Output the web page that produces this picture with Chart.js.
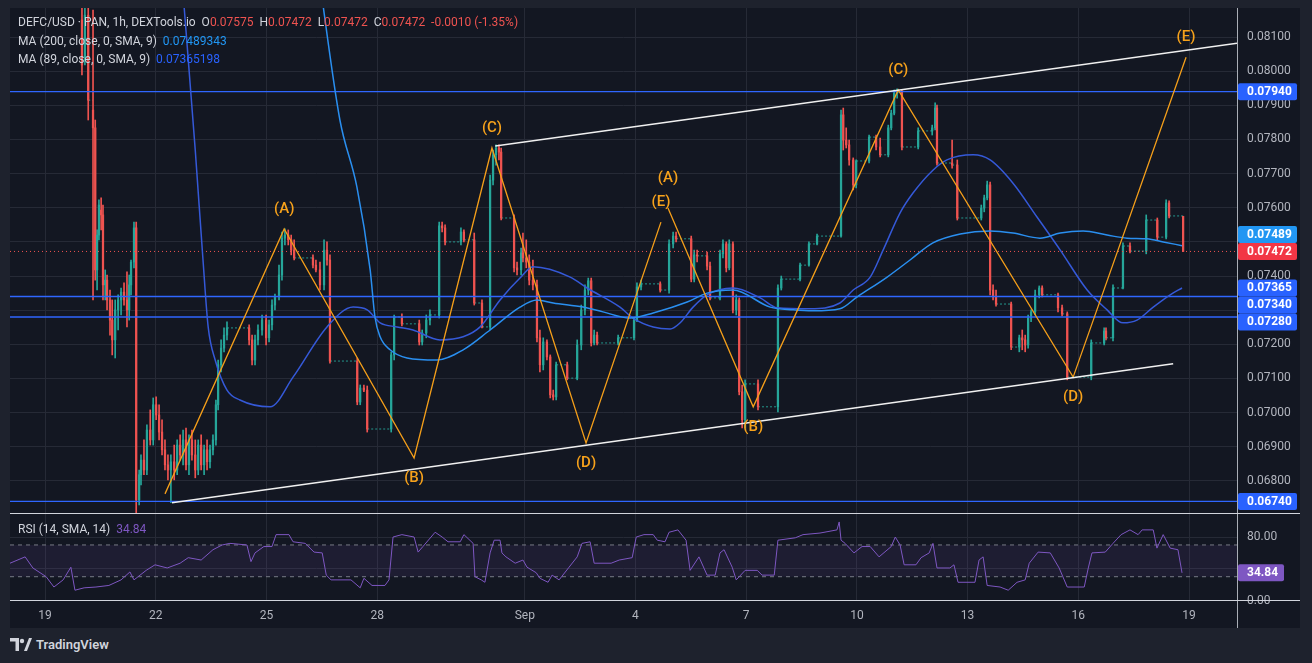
<!DOCTYPE html>
<html>
<head>
<meta charset="utf-8">
<script src="https://cdn.jsdelivr.net/npm/chart.js@4.4.1/dist/chart.umd.min.js"></script>
<style>
  html, body { margin: 0; padding: 0; width: 1312px; height: 663px; overflow: hidden; background: #1e222d; font-family: Roboto, "Noto Sans", sans-serif; }
  #pane { position: absolute; left: 10px; top: 8px; width: 1290px; height: 620px; background: #131722; }
  canvas { position: absolute; }
  #main { left: 10px; top: 8px; }
  #rsi { left: 10px; top: 514px; }
  .sep { position: absolute; background: #d1d4dc; }
  .legend { position: absolute; left: 18px; font-size: 12px; line-height: 14px; color: #d1d4dc; white-space: nowrap; }
  .dn { color: #ef5350; }
  .ma200 { color: #2196f3; }
  .ma89 { color: #2962ff; }
  .rsiv { color: #7e57c2; }
  #logo { position: absolute; left: 10px; top: 637px; display: flex; align-items: center; gap: 4px; color: #d1d4dc; font-size: 13px; font-weight: 600; }
</style>
</head>
<body>
<div id="pane"></div>
<canvas id="main" width="1290" height="505"></canvas>
<canvas id="rsi" width="1290" height="114"></canvas>
<div class="sep" style="left:10px;top:513px;width:1290px;height:1px"></div>
<div class="sep" style="left:10px;top:600px;width:1290px;height:1px"></div>
<div class="sep" style="left:1237px;top:8px;width:1px;height:620px;opacity:0.8"></div>

<div class="legend" style="top:15px">DEFC/USD · PAN, 1h, DEXTools.io&nbsp; O<span class="dn">0.07575</span>&nbsp; H<span class="dn">0.07472</span>&nbsp; L<span class="dn">0.07472</span>&nbsp; C<span class="dn">0.07472</span>&nbsp; <span class="dn">-0.0010 (-1.35%)</span></div>
<div class="legend" style="top:34px">MA (200, close, 0, SMA, 9)&nbsp; <span class="ma200">0.07489343</span></div>
<div class="legend" style="top:52px">MA (89, close, 0, SMA, 9)&nbsp; <span class="ma89">0.07365198</span></div>
<div class="legend" style="top:522px">RSI (14, SMA, 14)&nbsp; <span class="rsiv">34.84</span></div>

<div id="logo">
  <svg width="22" height="13" viewBox="0 0 22 13"><path d="M0 0h9v13H5.5V3.5H0z" fill="#d1d4dc"/><circle cx="12" cy="3" r="2.2" fill="#d1d4dc"/><path d="M14 13l5-13h3l-5 13z" fill="#d1d4dc"/></svg>
  <span>TradingView</span>
</div>

<script>
// time axis: day of month (Aug 19 = 19, Sep 1 = 32)
const dayTicks = [19, 22, 25, 28, 32, 35, 38, 41, 44, 47, 50];
const dayLabels = ['19', '22', '25', '28', 'Sep', '4', '7', '10', '13', '16', '19'];
const priceTicks = [0.068, 0.069, 0.070, 0.071, 0.072, 0.073, 0.074, 0.075, 0.076, 0.077, 0.078, 0.079, 0.080, 0.081];
const rsiTicks = [0, 40, 80];

// hourly candles (sampled): [day, open, high, low, close]
const candles = [
  [20.00, 0.08150, 0.08194, 0.07989, 0.08018], [20.08, 0.08033, 0.08185, 0.08018, 0.08164],
  [20.17, 0.08164, 0.08185, 0.07857, 0.07915], [20.30, 0.07886, 0.08179, 0.07330, 0.07834],
  [20.36, 0.07834, 0.07857, 0.07388, 0.07418], [20.41, 0.07418, 0.07535, 0.07359, 0.07520],
  [20.46, 0.07520, 0.07623, 0.07506, 0.07608], [20.52, 0.07593, 0.07629, 0.07535, 0.07579],
  [20.57, 0.07579, 0.07608, 0.07330, 0.07374], [20.63, 0.07374, 0.07418, 0.07330, 0.07388],
  [20.68, 0.07388, 0.07403, 0.07301, 0.07330], [20.76, 0.07330, 0.07359, 0.07227, 0.07271],
  [20.82, 0.07271, 0.07330, 0.07169, 0.07213], [20.90, 0.07213, 0.07330, 0.07160, 0.07301],
  [20.98, 0.07301, 0.07345, 0.07242, 0.07330], [21.06, 0.07330, 0.07365, 0.07286, 0.07353],
  [21.14, 0.07353, 0.07380, 0.07315, 0.07330], [21.22, 0.07330, 0.07412, 0.07251, 0.07301],
  [21.28, 0.07301, 0.07403, 0.07271, 0.07374], [21.33, 0.07374, 0.07447, 0.07345, 0.07441],
  [21.41, 0.07441, 0.07558, 0.07424, 0.07541], [21.47, 0.07541, 0.07558, 0.06700, 0.06744],
  [21.55, 0.06744, 0.06832, 0.06730, 0.06818], [21.60, 0.06818, 0.06876, 0.06788, 0.06861],
  [21.68, 0.06861, 0.06920, 0.06818, 0.06832], [21.76, 0.06832, 0.06964, 0.06818, 0.06949],
  [21.85, 0.06949, 0.07008, 0.06905, 0.06920], [21.93, 0.06920, 0.07043, 0.06905, 0.07023],
  [22.01, 0.07023, 0.07046, 0.06979, 0.06993], [22.09, 0.06993, 0.07023, 0.06920, 0.06943],
  [22.17, 0.06943, 0.06979, 0.06876, 0.06891], [22.25, 0.06891, 0.06920, 0.06832, 0.06847],
  [22.33, 0.06847, 0.06876, 0.06803, 0.06832], [22.41, 0.06832, 0.06876, 0.06736, 0.06856],
  [22.50, 0.06856, 0.06905, 0.06803, 0.06832], [22.58, 0.06832, 0.06920, 0.06818, 0.06905],
  [22.66, 0.06905, 0.06935, 0.06861, 0.06876], [22.74, 0.06876, 0.06949, 0.06847, 0.06920],
  [22.82, 0.06920, 0.06955, 0.06832, 0.06847], [22.90, 0.06847, 0.06935, 0.06818, 0.06920],
  [22.98, 0.06920, 0.06949, 0.06861, 0.06876], [23.07, 0.06876, 0.06920, 0.06809, 0.06832],
  [23.15, 0.06832, 0.06920, 0.06818, 0.06905], [23.23, 0.06905, 0.06935, 0.06832, 0.06847],
  [23.31, 0.06847, 0.06905, 0.06818, 0.06891], [23.39, 0.06891, 0.06920, 0.06832, 0.06856],
  [23.47, 0.06856, 0.06905, 0.06838, 0.06891], [23.55, 0.06891, 0.06935, 0.06876, 0.06920],
  [23.63, 0.06920, 0.07037, 0.06905, 0.07023], [23.69, 0.07023, 0.07154, 0.07008, 0.07140],
  [23.77, 0.07140, 0.07213, 0.07119, 0.07189], [23.85, 0.07189, 0.07248, 0.07178, 0.07227],
  [23.93, 0.07227, 0.07266, 0.07213, 0.07248], [24.53, 0.07248, 0.07257, 0.07198, 0.07213],
  [24.61, 0.07213, 0.07227, 0.07140, 0.07154], [24.69, 0.07154, 0.07227, 0.07140, 0.07213],
  [24.77, 0.07213, 0.07257, 0.07198, 0.07242], [24.88, 0.07242, 0.07286, 0.07227, 0.07271],
  [24.99, 0.07271, 0.07286, 0.07198, 0.07219], [25.07, 0.07219, 0.07271, 0.07207, 0.07257],
  [25.15, 0.07257, 0.07330, 0.07242, 0.07315], [25.23, 0.07315, 0.07347, 0.07301, 0.07339],
  [25.34, 0.07339, 0.07432, 0.07330, 0.07403], [25.42, 0.07403, 0.07529, 0.07388, 0.07511],
  [25.50, 0.07511, 0.07538, 0.07491, 0.07520], [25.59, 0.07520, 0.07535, 0.07491, 0.07506],
  [25.67, 0.07506, 0.07520, 0.07462, 0.07476], [25.75, 0.07476, 0.07506, 0.07447, 0.07453],
  [26.26, 0.07453, 0.07462, 0.07424, 0.07432], [26.34, 0.07432, 0.07447, 0.07412, 0.07418],
  [26.45, 0.07418, 0.07441, 0.07359, 0.07374], [26.56, 0.07374, 0.07506, 0.07359, 0.07476],
  [26.64, 0.07476, 0.07500, 0.07432, 0.07447], [26.72, 0.07447, 0.07462, 0.07145, 0.07151],
  [27.46, 0.07151, 0.07160, 0.07023, 0.07031], [27.54, 0.07031, 0.07081, 0.07023, 0.07072],
  [27.64, 0.07072, 0.07081, 0.07061, 0.07066], [27.73, 0.07066, 0.07078, 0.06943, 0.06952],
  [28.38, 0.06952, 0.07178, 0.06943, 0.07169], [28.46, 0.07169, 0.07286, 0.07154, 0.07280],
  [28.67, 0.07280, 0.07289, 0.07254, 0.07260], [29.14, 0.07260, 0.07271, 0.07198, 0.07207],
  [29.22, 0.07207, 0.07242, 0.07198, 0.07233], [29.33, 0.07233, 0.07286, 0.07219, 0.07271],
  [29.43, 0.07271, 0.07301, 0.07257, 0.07286], [29.68, 0.07286, 0.07558, 0.07277, 0.07547],
  [29.76, 0.07547, 0.07558, 0.07529, 0.07541], [29.84, 0.07541, 0.07550, 0.07491, 0.07500],
  [30.27, 0.07500, 0.07541, 0.07491, 0.07529], [30.35, 0.07529, 0.07535, 0.07500, 0.07506],
  [30.63, 0.07506, 0.07526, 0.07315, 0.07321], [30.84, 0.07321, 0.07330, 0.07248, 0.07251],
  [31.06, 0.07251, 0.07696, 0.07242, 0.07681], [31.14, 0.07681, 0.07769, 0.07667, 0.07755],
  [31.22, 0.07755, 0.07784, 0.07725, 0.07775], [31.30, 0.07775, 0.07784, 0.07740, 0.07763],
  [31.36, 0.07763, 0.07775, 0.07564, 0.07570], [31.71, 0.07570, 0.07579, 0.07412, 0.07424],
  [31.79, 0.07424, 0.07441, 0.07403, 0.07418], [31.90, 0.07418, 0.07482, 0.07403, 0.07468],
  [31.95, 0.07468, 0.07526, 0.07441, 0.07453], [32.04, 0.07453, 0.07506, 0.07424, 0.07441],
  [32.12, 0.07441, 0.07462, 0.07374, 0.07388], [32.22, 0.07388, 0.07447, 0.07359, 0.07374],
  [32.33, 0.07374, 0.07388, 0.07207, 0.07219], [32.41, 0.07219, 0.07242, 0.07119, 0.07140],
  [32.50, 0.07140, 0.07219, 0.07125, 0.07207], [32.60, 0.07207, 0.07213, 0.07154, 0.07163],
  [32.69, 0.07163, 0.07169, 0.07043, 0.07052], [32.77, 0.07052, 0.07066, 0.07037, 0.07046],
  [32.85, 0.07046, 0.07148, 0.07037, 0.07140], [33.15, 0.07140, 0.07148, 0.07096, 0.07101],
  [33.42, 0.07101, 0.07213, 0.07096, 0.07198], [33.53, 0.07198, 0.07315, 0.07184, 0.07301],
  [33.63, 0.07301, 0.07374, 0.07286, 0.07359], [33.72, 0.07359, 0.07394, 0.07345, 0.07386],
  [33.80, 0.07386, 0.07394, 0.07195, 0.07204], [33.88, 0.07204, 0.07242, 0.07198, 0.07227],
  [33.96, 0.07227, 0.07236, 0.07198, 0.07204], [34.53, 0.07204, 0.07227, 0.07198, 0.07219],
  [34.96, 0.07219, 0.07277, 0.07213, 0.07271], [35.04, 0.07271, 0.07380, 0.07266, 0.07368],
  [35.15, 0.07368, 0.07388, 0.07359, 0.07377], [35.67, 0.07377, 0.07383, 0.07353, 0.07359],
  [35.91, 0.07359, 0.07506, 0.07350, 0.07494], [36.02, 0.07494, 0.07529, 0.07482, 0.07517],
  [36.10, 0.07517, 0.07529, 0.07500, 0.07509], [36.51, 0.07509, 0.07517, 0.07383, 0.07391],
  [36.59, 0.07391, 0.07476, 0.07383, 0.07462], [36.67, 0.07462, 0.07476, 0.07441, 0.07459],
  [36.94, 0.07459, 0.07470, 0.07418, 0.07429], [37.02, 0.07429, 0.07441, 0.07330, 0.07336],
  [37.29, 0.07336, 0.07476, 0.07330, 0.07465], [37.37, 0.07465, 0.07506, 0.07453, 0.07494],
  [37.46, 0.07494, 0.07500, 0.07412, 0.07424], [37.54, 0.07424, 0.07506, 0.07418, 0.07494],
  [37.64, 0.07494, 0.07500, 0.07292, 0.07301], [37.73, 0.07301, 0.07345, 0.07286, 0.07330],
  [37.81, 0.07330, 0.07336, 0.07052, 0.07061], [37.89, 0.07061, 0.07081, 0.06955, 0.06979],
  [37.97, 0.06979, 0.07096, 0.06955, 0.07084], [38.32, 0.07084, 0.07096, 0.07008, 0.07017],
  [38.86, 0.07017, 0.07374, 0.07002, 0.07365], [38.95, 0.07365, 0.07400, 0.07359, 0.07391],
  [39.46, 0.07391, 0.07438, 0.07386, 0.07432], [39.70, 0.07432, 0.07500, 0.07429, 0.07494],
  [39.92, 0.07494, 0.07523, 0.07491, 0.07517], [40.57, 0.07517, 0.07886, 0.07514, 0.07872],
  [40.63, 0.07872, 0.07892, 0.07769, 0.07798], [40.71, 0.07798, 0.07834, 0.07775, 0.07784],
  [40.79, 0.07784, 0.07798, 0.07725, 0.07740], [40.90, 0.07740, 0.07746, 0.07652, 0.07667],
  [40.98, 0.07667, 0.07740, 0.07658, 0.07737], [41.33, 0.07737, 0.07813, 0.07731, 0.07807],
  [41.52, 0.07807, 0.07813, 0.07769, 0.07778], [41.63, 0.07778, 0.07804, 0.07749, 0.07755],
  [41.85, 0.07755, 0.07842, 0.07749, 0.07834], [41.93, 0.07834, 0.07886, 0.07828, 0.07877],
  [42.01, 0.07877, 0.07945, 0.07872, 0.07936], [42.09, 0.07936, 0.07948, 0.07921, 0.07939],
  [42.22, 0.07939, 0.07945, 0.07769, 0.07778], [42.66, 0.07778, 0.07834, 0.07772, 0.07825],
  [43.04, 0.07825, 0.07842, 0.07813, 0.07834], [43.12, 0.07834, 0.07907, 0.07828, 0.07892],
  [43.17, 0.07892, 0.07901, 0.07725, 0.07731], [43.58, 0.07731, 0.07798, 0.07716, 0.07725],
  [43.72, 0.07725, 0.07740, 0.07564, 0.07570], [44.37, 0.07570, 0.07608, 0.07564, 0.07599],
  [44.45, 0.07599, 0.07637, 0.07588, 0.07629], [44.53, 0.07629, 0.07678, 0.07623, 0.07667],
  [44.61, 0.07667, 0.07675, 0.07345, 0.07359], [44.69, 0.07359, 0.07374, 0.07330, 0.07339],
  [44.77, 0.07339, 0.07359, 0.07312, 0.07318], [45.18, 0.07318, 0.07324, 0.07184, 0.07192],
  [45.40, 0.07192, 0.07227, 0.07178, 0.07219], [45.48, 0.07219, 0.07242, 0.07184, 0.07213],
  [45.56, 0.07213, 0.07227, 0.07178, 0.07198], [45.64, 0.07198, 0.07286, 0.07189, 0.07277],
  [45.72, 0.07277, 0.07301, 0.07266, 0.07295], [45.83, 0.07295, 0.07359, 0.07286, 0.07345],
  [45.94, 0.07345, 0.07371, 0.07336, 0.07365], [46.02, 0.07365, 0.07371, 0.07339, 0.07345],
  [46.45, 0.07345, 0.07350, 0.07295, 0.07307], [46.56, 0.07307, 0.07315, 0.07283, 0.07289],
  [46.70, 0.07289, 0.07295, 0.07096, 0.07104], [47.35, 0.07104, 0.07213, 0.07096, 0.07204],
  [47.70, 0.07204, 0.07248, 0.07198, 0.07239], [47.75, 0.07239, 0.07248, 0.07213, 0.07219],
  [47.94, 0.07219, 0.07374, 0.07210, 0.07365], [48.21, 0.07365, 0.07497, 0.07362, 0.07488],
  [48.40, 0.07488, 0.07497, 0.07468, 0.07473], [48.84, 0.07473, 0.07579, 0.07465, 0.07564],
  [49.14, 0.07564, 0.07570, 0.07506, 0.07514], [49.38, 0.07514, 0.07623, 0.07509, 0.07614],
  [49.46, 0.07614, 0.07620, 0.07570, 0.07576], [49.84, 0.07575, 0.07575, 0.07472, 0.07472]
];

const ma200Day = [26.40, 26.99, 27.45, 27.81, 27.94, 28.08, 28.35, 28.81, 29.62, 30.33, 31.06, 31.87, 32.33, 32.77, 33.58, 34.12, 34.85, 35.48, 36.40, 36.94, 37.64, 38.65, 39.27, 39.81, 40.54, 41.01, 41.82, 42.44, 43.06, 43.80, 44.61, 45.23, 45.96, 46.51, 47.13, 47.78, 48.32, 48.86, 49.30, 49.81];
const ma200Value = [0.08296, 0.07857, 0.07661, 0.07418, 0.07280, 0.07222, 0.07184, 0.07160, 0.07154, 0.07184, 0.07242, 0.07309, 0.07330, 0.07321, 0.07309, 0.07295, 0.07277, 0.07292, 0.07324, 0.07350, 0.07359, 0.07309, 0.07301, 0.07298, 0.07304, 0.07339, 0.07397, 0.07447, 0.07497, 0.07523, 0.07532, 0.07526, 0.07511, 0.07526, 0.07532, 0.07520, 0.07511, 0.07509, 0.07500, 0.07489];

const ma89Day = [22.69, 23.07, 23.28, 23.42, 23.61, 23.93, 24.28, 25.10, 25.72, 26.64, 27.35, 27.73, 28.08, 28.54, 28.97, 29.70, 30.33, 30.79, 31.33, 31.87, 32.22, 33.23, 33.69, 34.58, 34.93, 35.48, 35.94, 36.21, 36.56, 36.94, 37.64, 38.38, 38.84, 39.73, 40.54, 40.90, 41.36, 41.71, 42.17, 42.52, 43.06, 43.44, 44.15, 44.61, 45.23, 45.88, 46.51, 47.24, 47.78, 48.21, 48.59, 49.03, 49.49, 49.81];
const ma89Value = [0.08296, 0.07769, 0.07447, 0.07251, 0.07154, 0.07066, 0.07037, 0.07017, 0.07104, 0.07251, 0.07309, 0.07301, 0.07263, 0.07251, 0.07242, 0.07213, 0.07222, 0.07251, 0.07330, 0.07394, 0.07427, 0.07397, 0.07365, 0.07309, 0.07277, 0.07251, 0.07245, 0.07263, 0.07309, 0.07345, 0.07365, 0.07336, 0.07307, 0.07304, 0.07321, 0.07359, 0.07397, 0.07476, 0.07585, 0.07643, 0.07710, 0.07740, 0.07755, 0.07740, 0.07672, 0.07573, 0.07476, 0.07359, 0.07301, 0.07263, 0.07271, 0.07309, 0.07345, 0.07365];

// Elliott style waves
const waveDay1 = [22.25, 25.48, 29.00, 31.11, 33.66, 35.69];
const wavePrice1 = [0.06762, 0.07538, 0.06867, 0.07775, 0.06911, 0.07558];
const waveNames1 = ['', '(A)', '(B)', '(C)', '(D)', '(E)'];
const waveDay2 = [35.88, 38.19, 42.12, 46.86, 49.92];
const wavePrice2 = [0.07599, 0.07017, 0.07945, 0.07104, 0.08041];
const waveNames2 = ['(A)', '(B)', '(C)', '(D)', '(E)'];

// channel
const upperDay = [31.20, 51.30];
const upperPrice = [0.07781, 0.08082];
const lowerDay = [22.44, 49.57];
const lowerPrice = [0.06736, 0.07143];

const levels = [0.0794, 0.0734, 0.0728, 0.0674];
const lastPrice = 0.07472;
const ma200Last = 0.07489;
const ma89Last = 0.07365;

const rsiDay = [18.05, 18.46, 18.67, 19.03, 19.24, 19.49, 19.70, 19.81, 20.06, 20.38,
  20.73, 21.06, 21.30, 21.41, 21.74, 21.98, 22.31, 22.66, 22.88, 23.23,
  23.55, 23.80, 24.01, 24.47, 24.58, 24.69, 24.93, 25.15, 25.26, 25.61,
  25.72, 26.05, 26.29, 26.51, 26.62, 26.75, 27.29, 27.54, 27.64, 27.86,
  28.21, 28.32, 28.43, 28.67, 29.00, 29.11, 29.24, 29.57, 29.76, 29.92,
  30.25, 30.35, 30.60, 30.65, 30.82, 30.92, 31.06, 31.17, 31.33, 31.38,
  31.49, 31.74, 31.95, 32.06, 32.31, 32.41, 32.63, 32.74, 32.93, 33.20,
  33.42, 33.55, 33.77, 33.88, 34.34, 34.56, 34.91, 35.02, 35.23, 35.48,
  35.59, 35.80, 35.91, 36.15, 36.37, 36.48, 36.72, 36.94, 37.16, 37.29,
  37.40, 37.62, 37.73, 37.97, 38.30, 38.43, 38.76, 38.86, 39.33, 39.54,
  40.00, 40.46, 40.52, 40.57, 40.68, 40.92, 41.14, 41.36, 41.60, 41.93,
  42.04, 42.17, 42.28, 42.60, 42.74, 42.96, 43.06, 43.17, 43.52, 43.63,
  43.74, 44.20, 44.31, 44.42, 44.53, 44.88, 45.10, 45.34, 45.56, 45.67,
  45.91, 46.24, 46.48, 46.70, 47.16, 47.27, 47.37, 47.73, 47.94, 48.16,
  48.40, 48.62, 48.73, 49.03, 49.13, 49.30, 49.49, 49.70, 49.81];
const rsiValue = [47, 55, 41, 30, 17, 26, 42, 13, 16, 17,
  19, 26, 36, 26, 38, 45, 41, 47, 54, 51,
  64, 70, 72, 70, 49, 60, 68, 68, 83, 83,
  74, 72, 61, 60, 32, 26, 26, 16, 28, 19,
  19, 26, 80, 83, 80, 61, 68, 86, 80, 74,
  74, 83, 72, 30, 26, 23, 60, 76, 76, 60,
  55, 47, 51, 42, 35, 28, 23, 32, 26, 42,
  55, 72, 74, 47, 47, 51, 54, 80, 83, 83,
  76, 74, 86, 89, 76, 38, 55, 32, 32, 60,
  64, 42, 26, 38, 38, 32, 32, 76, 79, 83,
  85, 89, 99, 76, 72, 60, 68, 68, 55, 68,
  80, 70, 45, 45, 54, 60, 72, 41, 41, 45,
  23, 23, 51, 55, 19, 17, 13, 23, 26, 47,
  61, 60, 41, 17, 17, 41, 60, 61, 72, 83,
  89, 83, 89, 89, 66, 83, 66, 64, 34.84];
const rsiUpper = 70;
const rsiLower = 30;

const xMin = 18.05, xMax = 51.30;
const teal = '#26a69a', red = '#ef5350';
const gridColor = '#262a36';
const axisText = '#b2b5be';
const font = 'Roboto';

const zip = (xs, ys) => xs.map((x, i) => ({ x, y: ys[i] }));
const hline = (v) => [{ x: xMin, y: v }, { x: xMax, y: v }];
const candleColor = candles.map(c => (c[4] >= c[1] ? teal : red));
const noPad = s => { s.paddingTop = 0; s.paddingBottom = 0; s.paddingLeft = 0; s.paddingRight = 0; };

// doji runs between sparse candles
const flatPoints = [];
candles.forEach((c, i) => {
  const n = candles[i + 1];
  if (n && n[0] - c[0] > 0.12) {
    flatPoints.push({ x: c[0], y: c[4] }, { x: n[0], y: c[4] }, { x: n[0], y: null });
  }
});

const axisBoxes = {
  id: 'axisBoxes',
  afterDraw(chart, args, opts) {
    const { ctx, chartArea, scales } = chart;
    const h = 17;
    const placed = [];
    ctx.save();
    ctx.font = `bold 12px ${font}`;
    ctx.textBaseline = 'middle';
    opts.boxes.forEach(b => {
      const want = scales.y.getPixelForValue(b.value);
      let cy = want, hit, n = 0;
      while ((hit = placed.find(p => Math.abs(p - cy) < h - 0.5)) !== undefined && n++ < 20) {
        cy = want < hit ? hit - h : hit + h;
      }
      placed.push(cy);
      ctx.fillStyle = b.color;
      ctx.beginPath();
      ctx.roundRect(chartArea.right + 1, cy - h / 2, b.width, h, 2);
      ctx.fill();
      ctx.fillStyle = '#ffffff';
      ctx.fillText(b.value.toFixed(b.digits), chartArea.right + 10, cy + 0.5);
    });
    ctx.restore();
  }
};

const waveLabels = {
  id: 'waveLabels',
  afterDatasetsDraw(chart) {
    const { ctx, scales: { x, y } } = chart;
    const placed = [];
    ctx.save();
    ctx.font = `500 15px ${font}`;
    ctx.fillStyle = '#f7a21b';
    ctx.textAlign = 'center';
    ctx.textBaseline = 'middle';
    [[waveDay1, wavePrice1, waveNames1], [waveDay2, wavePrice2, waveNames2]].forEach(([ds, ps, names]) => {
      names.forEach((name, i) => {
        if (!name) return;
        const prev = ps[i - 1] ?? ps[i + 1];
        const next = ps[i + 1] ?? ps[i - 1];
        const up = ps[i] >= prev && ps[i] >= next;
        const px = x.getPixelForValue(ds[i]);
        let cy = y.getPixelForValue(ps[i]) + (up ? -20 : 20);
        while (placed.some(p => Math.abs(p.x - px) < 30 && Math.abs(p.y - cy) < 22)) cy += up ? -2 : 2;
        placed.push({ x: px, y: cy });
        ctx.fillText(name, px, cy);
      });
    });
    ctx.restore();
  }
};

const lineDs = (data, color, width, order, extra) => Object.assign({
  type: 'line', data, borderColor: color, borderWidth: width, pointRadius: 0, fill: false, order
}, extra || {});

new Chart(document.getElementById('main'), {
  type: 'line',
  data: {
    datasets: [
      lineDs(zip(upperDay, upperPrice), '#f0f0f0', 1.5, 0),
      lineDs(zip(lowerDay, lowerPrice), '#f0f0f0', 1.5, 0),
      lineDs(zip(waveDay1, wavePrice1), '#f59f1a', 1.3, 1),
      lineDs(zip(waveDay2, wavePrice2), '#f59f1a', 1.3, 1),
      lineDs(zip(ma200Day, ma200Value), '#2a8ff0', 1.5, 2, { cubicInterpolationMode: 'monotone' }),
      lineDs(zip(ma89Day, ma89Value), '#3559d8', 1.5, 2, { cubicInterpolationMode: 'monotone' }),
      ...levels.map(v => lineDs(hline(v), '#2f66ff', 1.3, 3)),
      lineDs(hline(lastPrice), '#ef5350', 1, 4, { borderDash: [1, 3] }),
      {
        type: 'bar', data: candles.map(c => ({ x: c[0], y: [c[1], c[4]] })),
        backgroundColor: candleColor, barThickness: 1.6, minBarLength: 1, grouped: false, order: 5
      },
      {
        type: 'bar', data: candles.map(c => ({ x: c[0], y: [c[3], c[2]] })),
        backgroundColor: candleColor, barThickness: 1, grouped: false, order: 6
      },
      lineDs(flatPoints, 'rgba(38,166,154,0.9)', 1, 7, { borderDash: [2, 2], spanGaps: false })
    ]
  },
  options: {
    responsive: false,
    animation: false,
    devicePixelRatio: 1,
    layout: { padding: 0 },
    plugins: {
      legend: { display: false },
      tooltip: { enabled: false },
      axisBoxes: {
        boxes: [
          { value: lastPrice, color: '#f23645', width: 59, digits: 5 },
          { value: levels[0], color: '#2962ff', width: 59, digits: 5 },
          { value: ma200Last, color: '#2196f3', width: 59, digits: 5 },
          { value: ma89Last, color: '#2962ff', width: 59, digits: 5 },
          { value: levels[1], color: '#2962ff', width: 59, digits: 5 },
          { value: levels[2], color: '#2962ff', width: 59, digits: 5 },
          { value: levels[3], color: '#2962ff', width: 59, digits: 5 }
        ]
      }
    },
    scales: {
      x: {
        type: 'linear', min: xMin, max: xMax, offset: false,
        afterBuildTicks: s => { s.ticks = dayTicks.map(v => ({ value: v })); },
        afterFit: s => { s.height = 0; noPad(s); },
        ticks: { display: false },
        grid: { color: gridColor, drawTicks: false, offset: false },
        border: { display: false }
      },
      y: {
        position: 'right', min: 0.06706, max: 0.08185,
        afterBuildTicks: s => { s.ticks = priceTicks.map(v => ({ value: v })); },
        afterFit: s => { s.width = 63; noPad(s); },
        ticks: { color: axisText, font: { family: font, size: 12 }, padding: 10, callback: v => v.toFixed(5) },
        grid: { color: gridColor, drawTicks: false },
        border: { display: false }
      }
    }
  },
  plugins: [waveLabels, axisBoxes]
});

new Chart(document.getElementById('rsi'), {
  type: 'line',
  data: {
    datasets: [
      lineDs(zip(rsiDay, rsiValue), '#7e57c2', 1, 0),
      lineDs(hline(rsiUpper), '#787b86', 1, 1, { borderDash: [4, 4] }),
      lineDs(hline(rsiLower), '#787b86', 1, 1, { borderDash: [4, 4], fill: '-1', backgroundColor: 'rgba(126,87,194,0.1)' })
    ]
  },
  options: {
    responsive: false,
    animation: false,
    devicePixelRatio: 1,
    layout: { padding: 0 },
    plugins: {
      legend: { display: false },
      tooltip: { enabled: false },
      axisBoxes: { boxes: [{ value: rsiValue[rsiValue.length - 1], color: '#7e57c2', width: 46, digits: 2 }] }
    },
    scales: {
      x: {
        type: 'linear', min: xMin, max: xMax, offset: false,
        afterBuildTicks: s => { s.ticks = dayTicks.map(v => ({ value: v })); },
        afterFit: s => { s.height = 27; noPad(s); },
        ticks: {
          color: axisText, font: { family: font, size: 12 }, padding: 8, maxRotation: 0, autoSkip: false,
          callback: v => dayLabels[dayTicks.indexOf(v)]
        },
        grid: { color: gridColor, drawTicks: false },
        border: { display: false }
      },
      y: {
        position: 'right', min: -0.6, max: 109,
        afterBuildTicks: s => { s.ticks = rsiTicks.map(v => ({ value: v })); },
        afterFit: s => { s.width = 63; noPad(s); },
        ticks: { color: axisText, font: { family: font, size: 12 }, padding: 10, callback: v => (v === 40 ? '' : v.toFixed(2)) },
        grid: { color: gridColor, drawTicks: false },
        border: { display: false }
      }
    }
  },
  plugins: [axisBoxes]
});
</script>
</body>
</html>
